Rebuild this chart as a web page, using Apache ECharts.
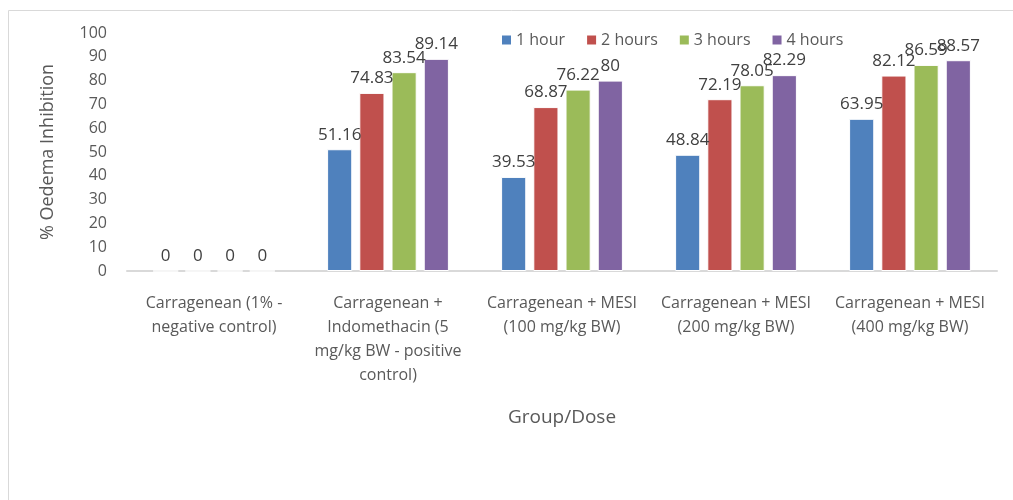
<!DOCTYPE html>
<html>
<head>
<meta charset="utf-8">
<script src="https://cdn.jsdelivr.net/npm/echarts@6/dist/echarts.min.js"></script>
<style>
  html, body { margin: 0; padding: 0; background: #fff; }
</style>
</head>
<body>
<div id="main" style="width: 1013px; height: 500px;"></div>
<script>
// 分组 / 剂量
const categories = [
  'Carragenean (1% -\nnegative control)',
  'Carragenean +\nIndomethacin (5\nmg/kg BW - positive\ncontrol)',
  'Carragenean + MESI\n(100 mg/kg BW)',
  'Carragenean + MESI\n(200 mg/kg BW)',
  'Carragenean + MESI\n(400 mg/kg BW)'
];
const seriesNames = ['1 hour', '2 hours', '3 hours', '4 hours'];
const hour1 = [0, 51.16, 39.53, 48.84, 63.95];
const hour2 = [0, 74.83, 68.87, 72.19, 82.12];
const hour3 = [0, 83.54, 76.22, 78.05, 86.59];
const hour4 = [0, 89.14, 80, 82.29, 88.57];
const yTicks = [0, 10, 20, 30, 40, 50, 60, 70, 80, 90, 100];

const font = "'Open Sans', 'Liberation Sans', sans-serif";
const textColor = '#595959';

const myChart = echarts.init(document.getElementById('main'));
const option = {
  color: ['#4f81bd', '#c0504d', '#9bbb59', '#8064a2'], // 柱条色
  textStyle: { fontFamily: font },
  grid: { left: 127, right: 16, top: 33, bottom: 229, containLabel: false },
  // 外框
  graphic: [{
    type: 'rect',
    silent: true,
    shape: { x: 8.5, y: 10.5, width: 1100, height: 600 },
    style: { fill: 'none', stroke: '#d9d9d9', lineWidth: 1 }
  }],
  legend: {
    data: seriesNames,
    left: 495,
    top: 27,
    itemWidth: 11,
    itemHeight: 11,
    itemGap: 20,
    icon: 'rect',
    textStyle: { fontSize: 16, color: textColor, fontFamily: font, padding: [0, 0, 0, -1] }
  },
  xAxis: {
    type: 'category',
    data: categories,
    name: 'Group/Dose',
    nameLocation: 'middle',
    nameGap: 137,
    nameTextStyle: { fontSize: 19, color: textColor, fontFamily: font },
    axisTick: { show: false },
    axisLine: { lineStyle: { color: '#d9d9d9', width: 2 } },
    axisLabel: {
      interval: 0,
      margin: 20,
      fontSize: 16,
      lineHeight: 24,
      color: textColor,
      fontFamily: font
    }
  },
  yAxis: {
    type: 'value',
    min: yTicks[0],
    max: yTicks[yTicks.length - 1],
    interval: 10,
    name: '% Oedema Inhibition',
    nameLocation: 'middle',
    nameGap: 70,
    nameRotate: 90,
    nameTextStyle: { fontSize: 18, color: textColor, fontFamily: font },
    axisLine: { show: false },
    axisTick: { show: false },
    splitLine: { show: false },
    axisLabel: { fontSize: 16, color: textColor, margin: 20, fontFamily: font }
  },
  series: [hour1, hour2, hour3, hour4].map((d, i) => ({
    name: seriesNames[i],
    type: 'bar',
    data: d,
    barGap: '28%',
    barCategoryGap: '30%',
    itemStyle: { borderColor: '#ffffff', borderWidth: 1 },
    label: {
      show: true,
      position: 'top',
      distance: 6,
      fontSize: 17,
      color: '#404040',
      fontFamily: font
    }
  }))
};
myChart.setOption(option);
</script>
</body>
</html>
